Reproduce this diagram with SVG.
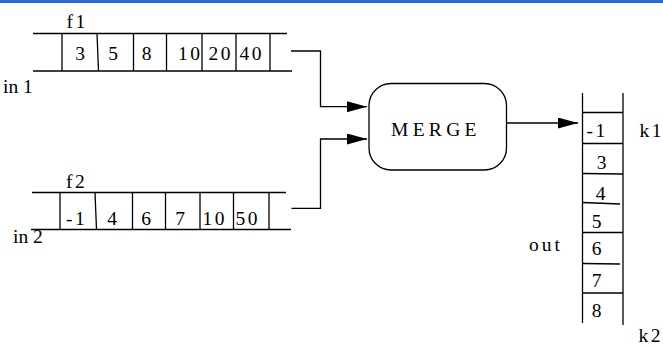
<svg xmlns="http://www.w3.org/2000/svg" width="663" height="347" viewBox="0 0 663 347">
<defs>
<style>
.ln{stroke:#000;stroke-width:1.3;fill:none}
.t{font-family:"Liberation Serif","Times New Roman",serif;font-size:19.5px;fill:#000}
.ls{letter-spacing:2.5px}
.c{text-anchor:middle}
</style>
<marker id="ah" markerWidth="20" markerHeight="11" refX="20" refY="5.5" markerUnits="userSpaceOnUse" orient="auto">
<path d="M0,0 L20,5.5 L0,11 Z" fill="#000"/>
</marker>
</defs>
<rect x="0" y="0" width="663" height="3" fill="#3366cc"/>
<g id="f1">
<line class="ln" x1="33" y1="33.5" x2="287" y2="33.5"/>
<line class="ln" x1="33" y1="71" x2="292" y2="71"/>
<line class="ln" x1="62" y1="33.5" x2="62" y2="71"/>
<line class="ln" x1="97" y1="33.5" x2="98.5" y2="71"/>
<line class="ln" x1="133.5" y1="33.5" x2="133.5" y2="71"/>
<line class="ln" x1="166.5" y1="33.5" x2="166.5" y2="71"/>
<line class="ln" x1="202" y1="33.5" x2="202" y2="71"/>
<line class="ln" x1="236" y1="33.5" x2="236" y2="71"/>
<line class="ln" x1="270" y1="33.5" x2="270" y2="71"/>
<text class="t c" x="80" y="60">3</text>
<text class="t c" x="113" y="60">5</text>
<text class="t c" x="146.5" y="60">8</text>
<text class="t ls" x="178" y="60">10</text>
<text class="t ls" x="208.5" y="60">20</text>
<text class="t ls" x="239.5" y="60">40</text>
<text class="t ls" x="66.5" y="28">f1</text>
<text class="t" x="3" y="93">in 1</text>
</g>
<g id="f2">
<line class="ln" x1="32" y1="192.5" x2="286" y2="192.5"/>
<line class="ln" x1="31" y1="229.5" x2="291" y2="229.5"/>
<line class="ln" x1="60" y1="192.5" x2="60" y2="229.5"/>
<line class="ln" x1="95" y1="192.5" x2="96.5" y2="229.5"/>
<line class="ln" x1="132.5" y1="192.5" x2="132.5" y2="229.5"/>
<line class="ln" x1="165.5" y1="192.5" x2="165.5" y2="229.5"/>
<line class="ln" x1="200" y1="192.5" x2="200" y2="229.5"/>
<line class="ln" x1="233.5" y1="192.5" x2="233.5" y2="229.5"/>
<line class="ln" x1="269" y1="192.5" x2="269" y2="229.5"/>
<text class="t ls" x="66" y="225">-1</text>
<text class="t c" x="112" y="225">4</text>
<text class="t c" x="146" y="225">6</text>
<text class="t c" x="180" y="225">7</text>
<text class="t ls" x="202.5" y="225">10</text>
<text class="t ls" x="235.5" y="225">50</text>
<text class="t ls" x="66" y="188">f2</text>
<text class="t" x="13" y="243">in 2</text>
</g>
<g id="merge">
<rect class="ln" x="369" y="83.5" width="137.5" height="86.5" rx="22" ry="22"/>
<text class="t" x="391" y="135.5" style="font-size:19.5px;letter-spacing:4.3px">MERGE</text>
</g>
<g id="out">
<line class="ln" x1="582.5" y1="93" x2="582.5" y2="323"/>
<line class="ln" x1="623" y1="93" x2="623" y2="325"/>
<line class="ln" x1="582.5" y1="112.5" x2="623" y2="112.5"/>
<line class="ln" x1="582.5" y1="143.5" x2="623" y2="143.5"/>
<line class="ln" x1="582.5" y1="173.5" x2="623" y2="174"/>
<line class="ln" x1="582.5" y1="202.5" x2="620" y2="204"/>
<line class="ln" x1="582.5" y1="232.5" x2="623" y2="232.5"/>
<line class="ln" x1="582.5" y1="263.5" x2="620" y2="264"/>
<line class="ln" x1="582.5" y1="293" x2="623" y2="293"/>
<text class="t ls" x="586.5" y="137">-1</text>
<text class="t c" x="601.5" y="169">3</text>
<text class="t c" x="600.5" y="200">4</text>
<text class="t c" x="596.5" y="228">5</text>
<text class="t c" x="596.5" y="254.5">6</text>
<text class="t c" x="596.5" y="286.5">7</text>
<text class="t c" x="596.5" y="316.5">8</text>
<text class="t ls" x="639.5" y="137">k1</text>
<text class="t ls" x="638.5" y="342">k2</text>
<text class="t" x="529" y="251" style="letter-spacing:3px">out</text>
</g>
<g id="connectors">
<path class="ln" d="M291,51 H320.5 V106.7 H367" marker-end="url(#ah)"/>
<path class="ln" d="M291.5,208.3 H320.5 V139 H367" marker-end="url(#ah)"/>
<path class="ln" d="M506.5,123 H578" marker-end="url(#ah)"/>
</g>
</svg>
